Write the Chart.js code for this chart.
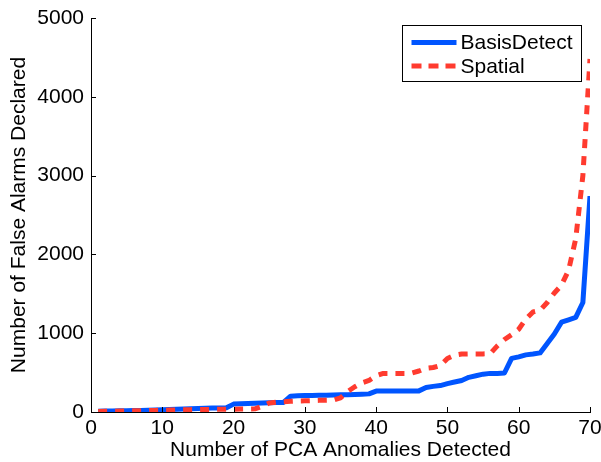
<!DOCTYPE html>
<html><head><meta charset="utf-8">
<script src="https://cdn.jsdelivr.net/npm/chart.js@4.4.1/dist/chart.umd.min.js"></script>
<style>html,body{margin:0;padding:0;background:#fff}#wrap{width:601px;height:462px}</style>
</head><body><div id="wrap"><canvas id="c" width="601" height="462"></canvas></div>
<script>
const anomaliesDetected = [1,2,3,4,5,6,7,8,9,10,11,12,13,14,15,16,17,18,19,20,
  21,22,23,24,25,26,27,28,29,30,31,32,33,34,35,36,37,38,39,40,
  41,42,43,44,45,46,47,48,49,50,51,52,53,54,55,56,57,58,59,60,
  61,62,63,64,65,66,67,68,69,70];
const basisDetect = [10,12,14,15,17,18,20,22,25,28,32,35,38,42,45,48,50,52,55,100,
  105,108,112,115,118,120,122,200,205,208,210,212,214,216,218,220,222,225,230,265,
  265,265,265,265,265,268,310,325,335,360,380,400,440,460,480,490,490,495,680,700,
  725,735,750,870,990,1140,1170,1200,1390,2740];
const spatial = [5,8,10,12,14,15,17,18,20,22,24,26,28,30,31,32,33,34,35,36,
  37,38,40,70,115,125,130,135,140,142,145,148,150,152,180,260,320,370,400,460,
  490,490,490,490,495,520,555,565,590,680,720,735,737,737,737,740,840,920,980,1050,
  1180,1270,1290,1390,1510,1610,1800,2200,3000,4480];
const seriesNames = ['BasisDetect', 'Spatial'];
const xTicks = [0,10,20,30,40,50,60,70];
const yTicks = [0,1000,2000,3000,4000,5000];

const FONT = "'Liberation Sans', Arial, Helvetica, sans-serif";
const BLUE = '#0055FF', RED = '#FF3B2F';

const toPts = (xs, ys) => xs.map((x, i) => ({x: x, y: ys[i]}));

const inwardTicks = {
  id: 'inwardTicks',
  afterDraw(chart) {
    const {ctx, chartArea: ca, scales: {x, y}} = chart;
    ctx.save();
    ctx.strokeStyle = '#000';
    ctx.lineWidth = 1;
    ctx.beginPath();
    x.ticks.forEach((t, i) => {
      const px = Math.round(x.getPixelForTick(i)) + 0.5;
      ctx.moveTo(px, ca.bottom); ctx.lineTo(px, ca.bottom - 5);
    });
    y.ticks.forEach((t, i) => {
      const py = Math.round(y.getPixelForTick(i)) + 0.5;
      ctx.moveTo(ca.left, py); ctx.lineTo(ca.left + 5, py);
    });
    ctx.stroke();
    ctx.restore();
  }
};

const boxLegend = {
  id: 'boxLegend',
  afterDraw(chart) {
    const {ctx, chartArea: ca} = chart;
    const bx = ca.right - 187.5, by = ca.top + 7.5, bw = 179, bh = 56;
    ctx.save();
    ctx.fillStyle = '#fff';
    ctx.fillRect(bx, by, bw, bh);
    ctx.strokeStyle = '#000';
    ctx.lineWidth = 1;
    ctx.strokeRect(bx, by, bw, bh);
    chart.data.datasets.forEach((ds, i) => {
      const cy = by + 17 + i * 23.5;
      ctx.beginPath();
      ctx.strokeStyle = ds.borderColor;
      ctx.lineWidth = 5;
      ctx.setLineDash(ds.borderDash ? [10, 7] : []);
      ctx.moveTo(bx + 9, cy); ctx.lineTo(bx + 54, cy);
      ctx.stroke();
      ctx.setLineDash([]);
      ctx.fillStyle = '#000';
      ctx.font = '21px ' + FONT;
      ctx.textBaseline = 'middle';
      ctx.textAlign = 'left';
      ctx.fillText(ds.label, bx + 58, cy + 1);
    });
    ctx.restore();
  }
};

new Chart(document.getElementById('c'), {
  type: 'line',
  data: {
    datasets: [
      {label: seriesNames[0], data: toPts(anomaliesDetected, basisDetect), borderColor: BLUE,
       borderWidth: 5, pointRadius: 0, tension: 0, fill: false, order: 1, borderJoinStyle: 'round'},
      {label: seriesNames[1], data: toPts(anomaliesDetected, spatial), borderColor: RED,
       borderWidth: 5, borderDash: [9, 8], pointRadius: 0, tension: 0, fill: false, order: 0, borderJoinStyle: 'round'}
    ]
  },
  options: {
    responsive: false,
    animation: false,
    devicePixelRatio: 1,
    layout: {padding: {left: 0, right: 11, top: 18, bottom: 0}},
    plugins: {legend: {display: false}, tooltip: {enabled: false}},
    scales: {
      x: {
        type: 'linear', min: 0, max: 70,
        afterBuildTicks: s => { s.ticks = xTicks.map(v => ({value: v})); },
        afterFit: s => { s.height = 50; s.paddingRight = 0; s.paddingLeft = 0; },
        grid: {display: false, drawTicks: false, tickLength: 0},
        border: {display: true, color: '#000', width: 1},
        ticks: {color: '#000', padding: 4, font: {family: FONT, size: 21}, maxRotation: 0,
                callback: v => String(v)},
        title: {display: true, text: 'Number of PCA Anomalies Detected', color: '#000',
                font: {family: FONT, size: 21, lineHeight: 1.1}, padding: {top: 0, bottom: 0}}
      },
      y: {
        min: 0, max: 5000,
        afterBuildTicks: s => { s.ticks = yTicks.map(v => ({value: v})); },
        afterFit: s => { s.width = 91; s.paddingTop = 0; s.paddingBottom = 0; },
        grid: {display: false, drawTicks: false, tickLength: 0},
        border: {display: true, color: '#000', width: 1},
        ticks: {color: '#000', padding: 7, font: {family: FONT, size: 21},
                callback: v => String(v)},
        title: {display: true, text: 'Number of False Alarms Declared', color: '#000',
                font: {family: FONT, size: 21, lineHeight: 1.2}, padding: {top: 7, bottom: 0}}
      }
    }
  },
  plugins: [inwardTicks, boxLegend]
});
</script></body></html>
